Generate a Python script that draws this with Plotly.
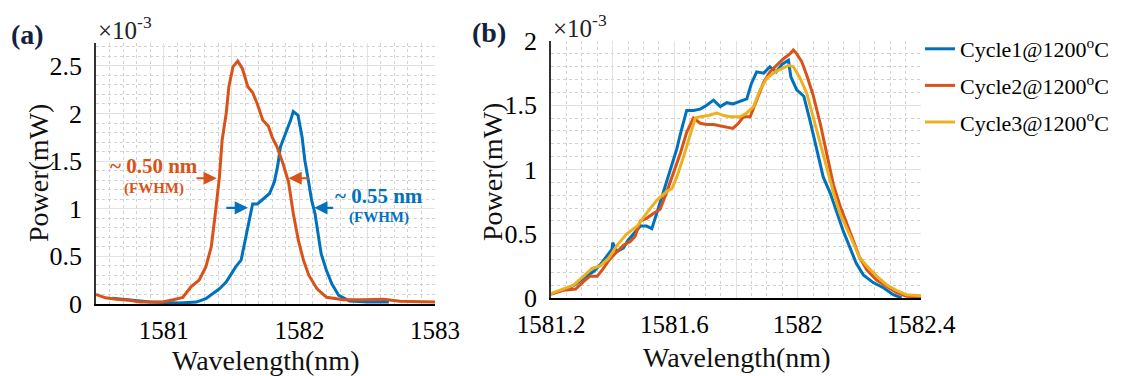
import plotly.graph_objects as go

# ---------------- data: panel (a) ----------------
a_orange_x = [1580.5, 1580.57, 1580.65, 1580.75, 1580.82, 1580.99, 1581.07, 1581.14, 1581.2, 1581.26,
              1581.31, 1581.35, 1581.38, 1581.41, 1581.43, 1581.46, 1581.48, 1581.51, 1581.545, 1581.58,
              1581.62, 1581.655, 1581.69, 1581.73, 1581.77, 1581.80, 1581.835, 1581.88, 1581.92, 1581.955,
              1581.992, 1582.03, 1582.07, 1582.13, 1582.2, 1582.325, 1582.47, 1582.62, 1582.74, 1583.0]
a_orange_y = [0.10, 0.065, 0.05, 0.04, 0.02, 0.02, 0.045, 0.07, 0.18, 0.25,
              0.39, 0.60, 0.95, 1.33, 1.72, 2.00, 2.28, 2.49, 2.55, 2.47,
              2.28, 2.22, 2.10, 1.93, 1.87, 1.75, 1.65, 1.47, 1.28, 0.95,
              0.67, 0.46, 0.30, 0.16, 0.07, 0.045, 0.045, 0.05, 0.03, 0.02]

a_blue_x = [1580.62, 1580.75, 1580.9, 1581.11, 1581.24, 1581.31, 1581.36, 1581.41, 1581.46, 1581.50,
            1581.53, 1581.57, 1581.59, 1581.62, 1581.655, 1581.69, 1581.73, 1581.78, 1581.815, 1581.84,
            1581.86, 1581.90, 1581.935, 1581.955, 1581.99, 1582.02, 1582.04, 1582.066, 1582.09, 1582.115,
            1582.14, 1582.16, 1582.2, 1582.24, 1582.29, 1582.37, 1582.5, 1582.66]
a_blue_y = [0.06, 0.04, 0.02, 0.01, 0.02, 0.055, 0.11, 0.16, 0.23, 0.32,
            0.39, 0.46, 0.60, 0.84, 1.05, 1.05, 1.10, 1.16, 1.28, 1.45,
            1.65, 1.79, 1.93, 2.02, 1.98, 1.75, 1.51, 1.30, 1.09, 0.95,
            0.70, 0.53, 0.35, 0.21, 0.09, 0.03, 0.02, 0.02]

# ---------------- data: panel (b) ----------------
b1_x = [1581.2, 1581.24, 1581.273, 1581.306, 1581.34, 1581.36, 1581.38, 1581.398, 1581.40, 1581.414,
        1581.435, 1581.45, 1581.468, 1581.49, 1581.51, 1581.527, 1581.543, 1581.56, 1581.576, 1581.592,
        1581.608, 1581.62, 1581.63, 1581.64, 1581.662, 1581.684, 1581.705, 1581.727, 1581.749, 1581.77,
        1581.79, 1581.81, 1581.835, 1581.85, 1581.867, 1581.89, 1581.91, 1581.93, 1581.95, 1581.97,
        1581.978, 1581.997, 1582.02, 1582.04, 1582.06, 1582.083, 1582.105, 1582.127, 1582.148, 1582.17,
        1582.19, 1582.213, 1582.245, 1582.278, 1582.31, 1582.337]
b1_y = [0.03, 0.065, 0.095, 0.155, 0.21, 0.26, 0.32, 0.38, 0.43, 0.36,
        0.39, 0.45, 0.50, 0.56, 0.56, 0.54, 0.66, 0.79, 0.92, 1.04,
        1.16, 1.28, 1.36, 1.46, 1.46, 1.47, 1.50, 1.54, 1.49, 1.52,
        1.51, 1.53, 1.55, 1.67, 1.76, 1.75, 1.80, 1.76, 1.82, 1.85,
        1.72, 1.62, 1.57, 1.38, 1.18, 0.94, 0.82, 0.66, 0.52, 0.39,
        0.27, 0.18, 0.12, 0.08, 0.026, 0.0]

b2_x = [1581.2, 1581.24, 1581.28, 1581.306, 1581.327, 1581.35, 1581.37, 1581.39, 1581.414, 1581.435,
        1581.457, 1581.473, 1581.49, 1581.51, 1581.533, 1581.554, 1581.576, 1581.597, 1581.62, 1581.64,
        1581.662, 1581.684, 1581.705, 1581.727, 1581.749, 1581.77, 1581.79, 1581.808, 1581.824, 1581.846,
        1581.867, 1581.89, 1581.91, 1581.93, 1581.953, 1581.975, 1581.986, 1581.997, 1582.013, 1582.03,
        1582.05, 1582.073, 1582.094, 1582.116, 1582.137, 1582.16, 1582.18, 1582.2, 1582.224, 1582.256,
        1582.29, 1582.32, 1582.353, 1582.4]
b2_y = [0.03, 0.06, 0.07, 0.13, 0.17, 0.17, 0.23, 0.30, 0.36, 0.41,
        0.44, 0.48, 0.60, 0.62, 0.66, 0.69, 0.83, 0.97, 1.13, 1.29,
        1.40, 1.36, 1.35, 1.35, 1.34, 1.33, 1.32, 1.36, 1.41, 1.41,
        1.54, 1.68, 1.76, 1.81, 1.86, 1.90, 1.93, 1.90, 1.84, 1.73,
        1.58, 1.36, 1.13, 0.88, 0.72, 0.58, 0.45, 0.32, 0.22, 0.14,
        0.09, 0.044, 0.013, 0.01]

b3_x = [1581.2, 1581.24, 1581.273, 1581.306, 1581.333, 1581.36, 1581.387, 1581.414, 1581.446, 1581.48,
        1581.51, 1581.543, 1581.576, 1581.592, 1581.608, 1581.63, 1581.65, 1581.668, 1581.684, 1581.71,
        1581.738, 1581.76, 1581.78, 1581.813, 1581.835, 1581.857, 1581.878, 1581.9, 1581.927, 1581.95,
        1581.97, 1581.986, 1582.008, 1582.03, 1582.05, 1582.073, 1582.094, 1582.116, 1582.137, 1582.16,
        1582.18, 1582.2, 1582.224, 1582.256, 1582.29, 1582.32, 1582.353, 1582.4]
b3_y = [0.034, 0.07, 0.10, 0.17, 0.23, 0.25, 0.31, 0.41, 0.50, 0.56,
        0.66, 0.76, 0.83, 0.85, 0.94, 1.10, 1.26, 1.40, 1.41, 1.42,
        1.44, 1.42, 1.41, 1.41, 1.44, 1.49, 1.62, 1.71, 1.76, 1.79,
        1.81, 1.80, 1.71, 1.59, 1.41, 1.20, 1.00, 0.82, 0.66, 0.53,
        0.43, 0.32, 0.25, 0.17, 0.10, 0.06, 0.026, 0.018]

series_names = ["Cycle1@1200<sup>o</sup>C", "Cycle2@1200<sup>o</sup>C", "Cycle3@1200<sup>o</sup>C"]

a_xticks = [1580.5, 1581, 1581.5, 1582, 1582.5, 1583]
a_xticktext = ["", "1581", "", "1582", "", "1583"]
a_yticks = [0, 0.5, 1, 1.5, 2, 2.5]
a_yticktext = ["0", "0.5", "1", "1.5", "2", "2.5"]
b_xticks = [1581.2, 1581.4, 1581.6, 1581.8, 1582.0, 1582.2, 1582.4]
b_xticktext = ["1581.2", "", "1581.6", "", "1582", "", "1582.4"]
b_yticks = [0, 0.5, 1, 1.5, 2]
b_yticktext = ["0", "0.5", "1", "1.5", "2"]

BLUE = "#0072BD"
ORANGE = "#D95319"
YELLOW = "#EDB120"
FONT = "Liberation Serif"

fig = go.Figure()
fig.add_trace(go.Scatter(x=a_blue_x, y=a_blue_y, mode="lines", line=dict(color=BLUE, width=3),
                         xaxis="x", yaxis="y", showlegend=False))
fig.add_trace(go.Scatter(x=a_orange_x, y=a_orange_y, mode="lines", line=dict(color=ORANGE, width=3),
                         xaxis="x", yaxis="y", showlegend=False))

for xs, ys, col, nm, g in [(b1_x, b1_y, BLUE, series_names[0], "g1"),
                           (b2_x, b2_y, ORANGE, series_names[1], "g2"),
                           (b3_x, b3_y, YELLOW, series_names[2], "g3")]:
    fig.add_trace(go.Scatter(x=xs, y=ys, mode="lines", line=dict(color=col, width=3),
                             xaxis="x2", yaxis="y2", name=nm, legendgroup=g))

grid_major = "#e3e3e3"
grid_minor = "#d2d2d2"
TICK_SIZE = 25

def xaxis_cfg(domain, rng, tv, tt, minor_dt, anchor):
    return dict(domain=domain, range=rng, tickmode="array", tickvals=tv, ticktext=tt,
                showgrid=True, gridcolor=grid_major, gridwidth=1,
                minor=dict(dtick=minor_dt, tick0=rng[0], showgrid=True, gridcolor=grid_minor,
                           griddash="dot", gridwidth=1, ticks=""),
                showline=True, linecolor="#000000", linewidth=1.5, ticks="",
                tickfont=dict(family=FONT, size=TICK_SIZE, color="#000000"),
                ticklabelstandoff=3, zeroline=False, anchor=anchor, automargin=False)

def yaxis_cfg(domain, rng, tv, tt, anchor):
    return dict(domain=domain, range=rng, tickmode="array", tickvals=tv, ticktext=tt,
                showgrid=True, gridcolor=grid_major, gridwidth=1,
                minor=dict(dtick=0.1, tick0=0, showgrid=True, gridcolor=grid_minor,
                           griddash="dot", gridwidth=1, ticks=""),
                showline=True, linecolor="#333333", linewidth=1.5, ticks="",
                tickfont=dict(family=FONT, size=TICK_SIZE + 1, color="#000000"),
                ticklabelstandoff=7, zeroline=False, anchor=anchor, automargin=False)

W, H = 1128, 376
fig.update_layout(
    width=W, height=H,
    margin=dict(l=0, r=0, t=0, b=0, autoexpand=False),
    paper_bgcolor="white", plot_bgcolor="white",
    xaxis=xaxis_cfg([96 / W, 435 / W], [1580.5, 1583], a_xticks, a_xticktext, 0.1, "y"),
    yaxis=yaxis_cfg([1 - 304 / H, 1 - 43 / H], [0, 2.74], a_yticks, a_yticktext, "x"),
    xaxis2=xaxis_cfg([551 / W, 921 / W], [1581.2, 1582.4], b_xticks, b_xticktext, 0.05, "y2"),
    yaxis2=yaxis_cfg([1 - 298 / H, 1 - 41 / H], [0, 2], b_yticks, b_yticktext, "x2"),
    legend=dict(x=920 / W, y=1 - 28 / H, xanchor="left", yanchor="top",
                font=dict(family=FONT, size=22, color="#000000"),
                bgcolor="rgba(255,255,255,0)", borderwidth=0,
                tracegroupgap=5, itemwidth=30),
    showlegend=True,
)

ann = []
# panel labels
ann.append(dict(text="<b>(a)</b>", x=9 / W, y=1 - 34 / H, xref="paper", yref="paper",
                xanchor="left", yanchor="middle", showarrow=False,
                font=dict(family=FONT, size=28, color="#14213d")))
ann.append(dict(text="<b>(b)</b>", x=470 / W, y=1 - 33 / H, xref="paper", yref="paper",
                xanchor="left", yanchor="middle", showarrow=False,
                font=dict(family=FONT, size=28, color="#14213d")))
# exponent labels
ann.append(dict(text="×10<sup>-3</sup>", x=96 / W, y=1 - 28 / H, xref="paper", yref="paper",
                xanchor="left", yanchor="middle", showarrow=False,
                font=dict(family=FONT, size=25, color="#222222")))
ann.append(dict(text="×10<sup>-3</sup>", x=551 / W, y=1 - 26 / H, xref="paper", yref="paper",
                xanchor="left", yanchor="middle", showarrow=False,
                font=dict(family=FONT, size=25, color="#222222")))
# axis titles
for xc, yc in [(38, 173), (493, 172)]:
    ann.append(dict(text="Power(mW)", x=xc / W, y=1 - yc / H, xref="paper", yref="paper",
                    xanchor="center", yanchor="middle", showarrow=False, textangle=-90,
                    font=dict(family=FONT, size=28, color="#111111")))
for xc, yc in [(265, 360), (736, 357)]:
    ann.append(dict(text="Wavelength(nm)", x=xc / W, y=1 - yc / H, xref="paper", yref="paper",
                    xanchor="center", yanchor="middle", showarrow=False,
                    font=dict(family=FONT, size=28, color="#111111")))

# FWHM arrows (panel a)
arrows = [(1581.23, 1581.39, 1.32, ORANGE), (1582.08, 1581.92, 1.32, ORANGE),
          (1581.45, 1581.62, 1.01, BLUE), (1582.26, 1582.11, 1.01, BLUE)]
for x0, x1, yv, col in arrows:
    ann.append(dict(x=x1, y=yv, ax=x0, ay=yv, xref="x", yref="y", axref="x", ayref="y",
                    text="", showarrow=True, arrowhead=2, arrowsize=1.2, arrowwidth=2.2,
                    arrowcolor=col))
ann.append(dict(text="<b>~ 0.50 nm</b>", x=1580.93, y=1.45, xref="x", yref="y", showarrow=False,
                font=dict(family=FONT, size=21, color=ORANGE)))
ann.append(dict(text="<b>(FWHM)</b>", x=1580.93, y=1.21, xref="x", yref="y", showarrow=False,
                font=dict(family=FONT, size=15, color=ORANGE)))
ann.append(dict(text="<b>~ 0.55 nm</b>", x=1582.59, y=1.13, xref="x", yref="y", showarrow=False,
                font=dict(family=FONT, size=21, color=BLUE)))
ann.append(dict(text="<b>(FWHM)</b>", x=1582.59, y=0.91, xref="x", yref="y", showarrow=False,
                font=dict(family=FONT, size=15, color=BLUE)))

fig.update_layout(annotations=ann)
fig.write_html("out.html", config={"displayModeBar": False},
               post_script="document.body.style.margin='0';document.body.style.padding='0';"
                           "document.body.style.overflow='hidden';")
